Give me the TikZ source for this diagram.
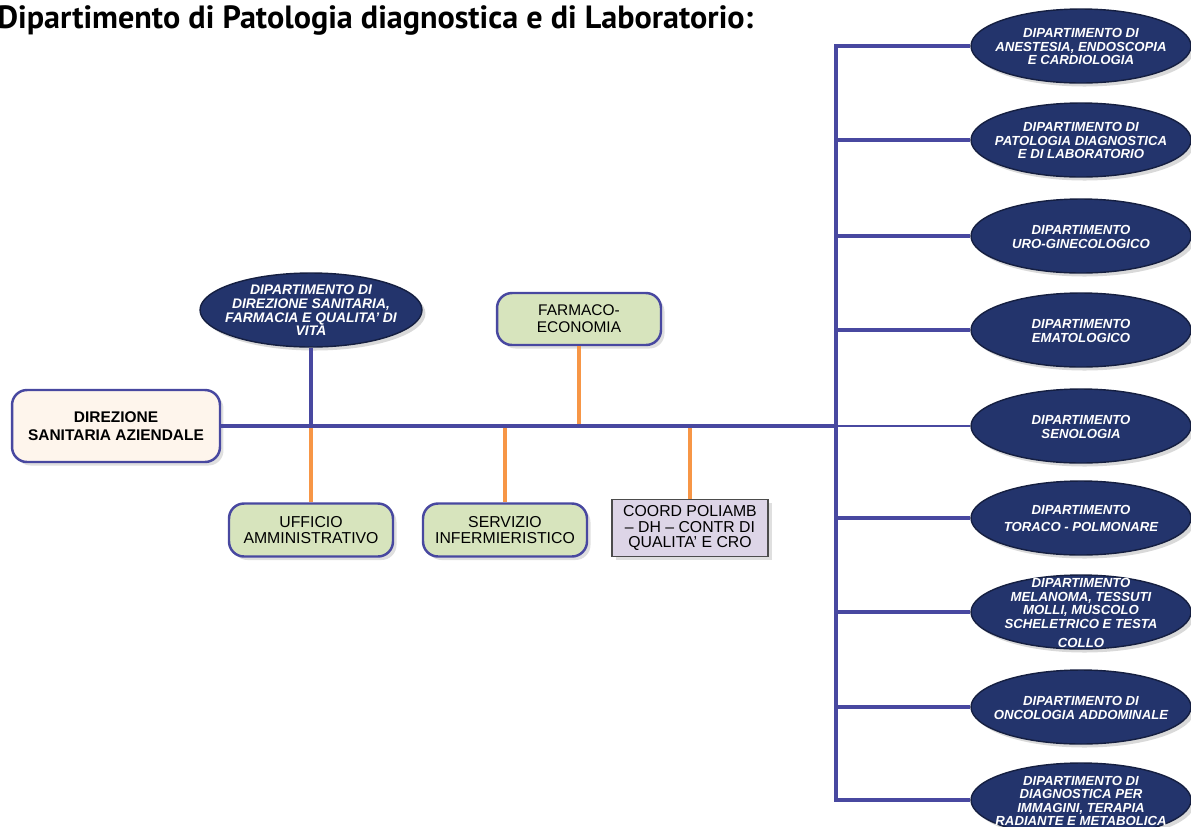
\documentclass[tikz,border=0pt]{standalone}
\usepackage{fontspec}
\setmainfont{Liberation Sans}
\newfontfamily\titlefont{PT Sans}
\usetikzlibrary{positioning,shapes.geometric,shadows}
\definecolor{deptnavy}{RGB}{35,52,108}
\definecolor{linkblue}{RGB}{72,72,160}
\definecolor{linkorange}{RGB}{247,150,70}
\definecolor{cream}{RGB}{254,245,236}
\definecolor{sage}{RGB}{215,228,189}
\definecolor{lilac}{RGB}{221,213,231}
\newcommand{\depttext}[1]{\makebox[0pt]{\smash{\raisebox{-3.3pt}{\begin{tabular}{@{}c@{}}#1\end{tabular}}}}}

\begin{document}
\begin{tikzpicture}[x=0.02cm,y=-0.02cm,
				dept/.style={ellipse,draw=deptnavy!60!black,thick,fill=deptnavy,text=white,inner sep=0pt,
					minimum width=4.4cm,minimum height=1.48cm,
					font=\fontsize{7.5}{7.7}\selectfont\bfseries\itshape,
					drop shadow={opacity=0.3,shadow xshift=2pt,shadow yshift=-2pt}},
				roundbox/.style={rectangle,rounded corners=0.3cm,draw=linkblue,line width=1.4pt,align=center,
					drop shadow={opacity=0.25,shadow xshift=2pt,shadow yshift=-2pt}},
				bluelink/.style={draw=linkblue,line width=2pt},
				orangelink/.style={draw=linkorange,line width=2pt}]
				\useasboundingbox (0,0) rectangle (1191,826);

				\node (TITLE) [anchor=base west,inner sep=0pt,font=\titlefont\bfseries\fontsize{18.3}{21}\selectfont] at (-3,28)
					{Dipartimento di Patologia diagnostica e di Laboratorio:};

				% staff nodes
				\node (DSA) [roundbox,fill=cream,minimum width=4.16cm,minimum height=1.44cm,
					font=\fontsize{8.8}{10.3}\selectfont\bfseries] at (116,426) {DIREZIONE\\SANITARIA AZIENDALE};
				\node (DDS) [dept,minimum width=4.44cm,font=\fontsize{7.9}{7.7}\selectfont\bfseries\itshape] at (311,310)
					{\depttext{DIPARTIMENTO DI\\DIREZIONE SANITARIA,\\FARMACIA E QUALITA' DI\\VITA}};
				\node (FE)  [roundbox,fill=sage,minimum width=3.28cm,minimum height=1.04cm,
					font=\fontsize{8.8}{9.5}\selectfont] at (579,319) {FARMACO-\\ECONOMIA};
				\node (UA)  [roundbox,fill=sage,minimum width=3.28cm,minimum height=1.06cm,
					font=\fontsize{9}{9.3}\selectfont] at (311,530) {UFFICIO\\AMMINISTRATIVO};
				\node (SI)  [roundbox,fill=sage,minimum width=3.28cm,minimum height=1.06cm,
					font=\fontsize{9}{9.3}\selectfont] at (505,530) {SERVIZIO\\INFERMIERISTICO};
				\node (CP)  [rectangle,draw=black!70,thick,fill=lilac,align=center,minimum width=3.12cm,minimum height=1.12cm,
					font=\fontsize{9}{8.9}\selectfont,drop shadow={opacity=0.25,shadow xshift=2pt,shadow yshift=-2pt}]
					at (690,528) {COORD POLIAMB\\-- DH -- CONTR DI\\QUALITA' E CRO};

				% departments
				\node (D1) [dept] at (1081,46)  {\depttext{DIPARTIMENTO DI\\ANESTESIA, ENDOSCOPIA\\E CARDIOLOGIA}};
				\node (D2) [dept] at (1081,140) {\depttext{DIPARTIMENTO DI\\PATOLOGIA DIAGNOSTICA\\E DI LABORATORIO}};
				\node (D3) [dept] at (1081,236) {\depttext{DIPARTIMENTO\\URO-GINECOLOGICO}};
				\node (D4) [dept] at (1081,330) {\depttext{DIPARTIMENTO\\EMATOLOGICO}};
				\node (D5) [dept] at (1081,426) {\depttext{DIPARTIMENTO\\SENOLOGIA}};
				\node (D6) [dept] at (1081,518) {\depttext{DIPARTIMENTO\\[2pt]TORACO - POLMONARE}};
				\node (D7) [dept] at (1081,612) {\depttext{DIPARTIMENTO\\MELANOMA, TESSUTI\\MOLLI, MUSCOLO\\SCHELETRICO E TESTA\\[3pt]COLLO}};
				\node (D8) [dept] at (1081,707) {\depttext{DIPARTIMENTO DI\\ONCOLOGIA ADDOMINALE}};
				\node (D9) [dept] at (1081,800) {\depttext{DIPARTIMENTO DI\\DIAGNOSTICA PER\\IMMAGINI, TERAPIA\\RADIANTE E METABOLICA}};

				\coordinate (TRUNK) at (836,426);

				\draw[orangelink] (FE.south) -- (FE.south |- TRUNK)
					(UA.north |- TRUNK) -- (UA.north)
					(SI.north |- TRUNK) -- (SI.north)
					(CP.north |- TRUNK) -- (CP.north);
				\draw[bluelink] (DDS.south) -- (DDS.south |- TRUNK);
				\draw[bluelink] (DSA.east) -- (TRUNK);
				\draw[draw=linkblue,line width=1.3pt] (TRUNK) -- (D5.west);
				\draw[bluelink] (D1.west) -- (D1.west -| TRUNK) -- (D9.west -| TRUNK) -- (D9.west)
					(D2.west) -- (D2.west -| TRUNK) (D3.west) -- (D3.west -| TRUNK)
					(D4.west) -- (D4.west -| TRUNK) (D6.west) -- (D6.west -| TRUNK)
					(D7.west) -- (D7.west -| TRUNK) (D8.west) -- (D8.west -| TRUNK);
			\end{tikzpicture}
\end{document}
